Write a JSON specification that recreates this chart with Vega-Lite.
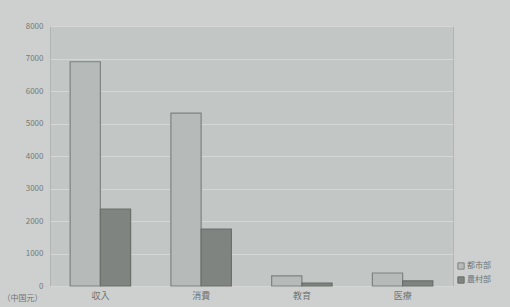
{
  "$schema": "https://vega.github.io/schema/vega-lite/v6.json",
  "width": 403,
  "height": 260,
  "autosize": {"type": "none"},
  "padding": {"left": 50, "top": 26, "right": 57, "bottom": 21},
  "background": "#cdd0cf",
  "config": {
    "view": {"fill": "#c2c6c4", "stroke": "#b0b4b2", "strokeWidth": 1},
    "font": "Noto Sans CJK JP"
  },
  "data": {
    "values": [
      {"cat": "収入", "area": "都市部", "value": 6900},
      {"cat": "収入", "area": "農村部", "value": 2370},
      {"cat": "消費", "area": "都市部", "value": 5320},
      {"cat": "消費", "area": "農村部", "value": 1750},
      {"cat": "教育", "area": "都市部", "value": 310},
      {"cat": "教育", "area": "農村部", "value": 90},
      {"cat": "医療", "area": "都市部", "value": 400},
      {"cat": "医療", "area": "農村部", "value": 160}
    ]
  },
  "mark": {"type": "bar", "strokeWidth": 1.2},
  "encoding": {
    "x": {
      "field": "cat", "type": "nominal", "sort": ["収入", "消費", "教育", "医療"],
      "scale": {"paddingInner": 0.4, "paddingOuter": 0.2},
      "axis": {"title": null, "labelAngle": 0, "ticks": false, "domain": false, "labelFontSize": 9, "labelColor": "#6f7371", "labelPadding": 5}
    },
    "xOffset": {"field": "area", "type": "nominal", "sort": ["都市部", "農村部"]},
    "y": {
      "field": "value", "type": "quantitative",
      "scale": {"domain": [0, 8000]},
      "axis": {
        "values": [0, 1000, 2000, 3000, 4000, 5000, 6000, 7000, 8000],
        "format": "d", "ticks": false, "domain": false,
        "gridColor": "#d4d7d6", "gridWidth": 1,
        "labelFontSize": 8, "labelColor": "#767a78", "labelPadding": 7,
        "title": "（中国元）", "titleAngle": 0, "titleX": -48, "titleY": 272, "titleAlign": "left", "titleBaseline": "middle",
        "titleFontSize": 8, "titleFontWeight": "normal", "titleColor": "#6f7371"
      }
    },
    "color": {
      "field": "area", "type": "nominal", "sort": ["都市部", "農村部"],
      "scale": {"domain": ["都市部", "農村部"], "range": ["#b6bbb9", "#7f8480"]},
      "legend": {
        "title": null, "orient": "none", "legendX": 407, "legendY": 236,
        "symbolType": "square", "symbolSize": 40, "symbolStrokeColor": "#6f7371", "symbolStrokeWidth": 1,
        "labelFontSize": 8, "labelColor": "#6f7371", "rowPadding": 2, "labelOffset": 2
      }
    },
    "stroke": {
      "field": "area", "type": "nominal", "sort": ["都市部", "農村部"],
      "scale": {"domain": ["都市部", "農村部"], "range": ["#7e8381", "#6a6f6c"]},
      "legend": null
    }
  }
}
